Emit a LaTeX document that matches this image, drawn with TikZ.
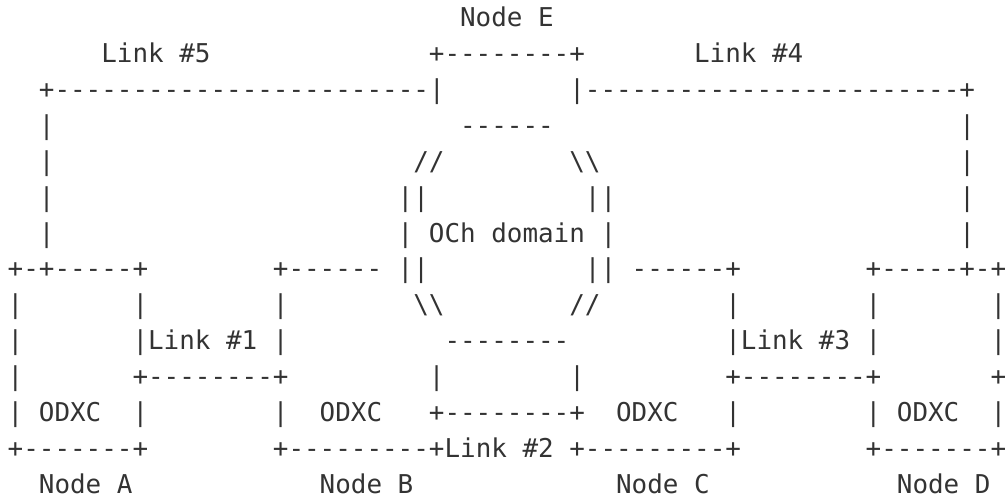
\documentclass[tikz,border=0pt]{standalone}
\usepackage{fontspec}
\setmonofont{DejaVu Sans Mono}
\usepackage{tikz}

\definecolor{ink}{HTML}{333333}
\newcommand{\bsl}{\textbackslash\textbackslash}

\tikzset{
	ascii/.style={anchor=base west, inner sep=0pt, outer sep=0pt, text=ink,
		font=\ttfamily\fontsize{12.96pt}{15pt}\selectfont}
}

\begin{document}
\begin{tikzpicture}
	\useasboundingbox (0pt,0pt) rectangle (502.5pt,-248.5pt);
	
	\begin{scope}[shift={(3.85pt,-13.5pt)}, x=7.8pt, y=-17.925pt]
		% node E and the two upper links
		\node[ascii] (nodeE) at (29,0) {Node E};
		\node[ascii] (link5) at (6,1) {Link \#5};
		\node[ascii] (etop) at (27,1) {+--------+};
		\node[ascii] (link4) at (44,1) {Link \#4};
		\node[ascii] (l5h) at (2,2) {+------------------------|};
		\node[ascii] (l4h) at (36,2) {|------------------------+};
		
		% OCh domain
		\node[ascii] (l5a) at (2,3) {|};
		\node[ascii] (och1) at (29,3) {------};
		\node[ascii] (l4a) at (61,3) {|};
		\node[ascii] (l5b) at (2,4) {|};
		\node[ascii] (och2l) at (26,4) {//};
		\node[ascii] (och2r) at (36,4) {\bsl};
		\node[ascii] (l4b) at (61,4) {|};
		\node[ascii] (l5c) at (2,5) {|};
		\node[ascii] (och3l) at (25,5) {||};
		\node[ascii] (och3r) at (37,5) {||};
		\node[ascii] (l4c) at (61,5) {|};
		\node[ascii] (l5d) at (2,6) {|};
		\node[ascii] (och) at (25,6) {| OCh domain |};
		\node[ascii] (l4d) at (61,6) {|};
		
		% ODXC boxes, top edges
		\node[ascii] (atop) at (0,7) {+-+-----+};
		\node[ascii] (btop) at (17,7) {+------ ||};
		\node[ascii] (ctop) at (37,7) {|| ------+};
		\node[ascii] (dtop) at (55,7) {+-----+-+};
		
		\node[ascii] (a1) at (0,8) {|};
		\node[ascii] (a2) at (8,8) {|};
		\node[ascii] (b1) at (17,8) {|};
		\node[ascii] (och5l) at (26,8) {\bsl};
		\node[ascii] (och5r) at (36,8) {//};
		\node[ascii] (c1) at (46,8) {|};
		\node[ascii] (d1) at (55,8) {|};
		\node[ascii] (d2) at (63,8) {|};
		
		\node[ascii] (a3) at (0,9) {|};
		\node[ascii] (link1) at (8,9) {|Link \#1 |};
		\node[ascii] (och6) at (28,9) {--------};
		\node[ascii] (link3) at (46,9) {|Link \#3 |};
		\node[ascii] (d3) at (63,9) {|};
		
		\node[ascii] (a4) at (0,10) {|};
		\node[ascii] (l1bot) at (8,10) {+--------+};
		\node[ascii] (l2l) at (27,10) {|};
		\node[ascii] (l2r) at (36,10) {|};
		\node[ascii] (l3bot) at (46,10) {+--------+};
		\node[ascii] (d4) at (63,10) {+};
		
		% ODXC labels
		\node[ascii] (odxcA) at (0,11) {| ODXC};
		\node[ascii] (a5) at (8,11) {|};
		\node[ascii] (b2) at (17,11) {|};
		\node[ascii] (odxcB) at (20,11) {ODXC};
		\node[ascii] (l2top) at (27,11) {+--------+};
		\node[ascii] (odxcC) at (39,11) {ODXC};
		\node[ascii] (c2) at (46,11) {|};
		\node[ascii] (odxcD) at (55,11) {| ODXC};
		\node[ascii] (d5) at (63,11) {|};
		
		% bottom edges and link 2
		\node[ascii] (abot) at (0,12) {+-------+};
		\node[ascii] (link2) at (17,12) {+---------+Link \#2 +---------+};
		\node[ascii] (dbot) at (55,12) {+-------+};
		
		\node[ascii] (nodeA) at (2,13) {Node A};
		\node[ascii] (nodeB) at (20,13) {Node B};
		\node[ascii] (nodeC) at (39,13) {Node C};
		\node[ascii] (nodeD) at (57,13) {Node D};
	\end{scope}
	
\end{tikzpicture}
\end{document}
